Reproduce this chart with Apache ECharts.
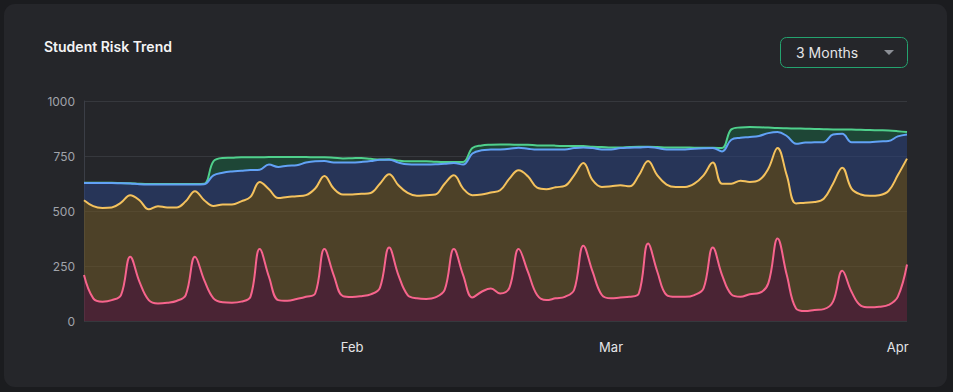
<!DOCTYPE html>
<html><head><meta charset="utf-8">
<script src="https://cdn.jsdelivr.net/npm/echarts@6/dist/echarts.min.js"></script>
<style>
html,body{margin:0;padding:0;background:#1b1c1f;width:953px;height:392px;overflow:hidden;}
#card{position:absolute;left:4px;top:4px;width:943px;height:383px;background:#25262a;border-radius:11px;}
#chart{position:absolute;left:0;top:0;width:953px;height:392px;}
</style></head><body>
<div id="card"></div><div id="chart"></div>
<script>
// Daily categories: 2025-01-03 .. 2025-04-02 (90 days)
const startDate = [2025, 0, 3];
const dayCount = 90;
const dates = [];
for (let i = 0; i < dayCount; i++) {
  const d = new Date(Date.UTC(startDate[0], startDate[1], startDate[2] + i));
  dates.push(d.toISOString().slice(0, 10));
}
const monthNames = ['Jan','Feb','Mar','Apr','May','Jun','Jul','Aug','Sep','Oct','Nov','Dec'];
const yTicks = [0, 250, 500, 750, 1000];

const greenSeries = [628,628,628,628,627,626,624,623,623,623,623,623,623,624,726,741,742,744,744,744,
  745,745,745,745,745,744,744,742,739,740,741,737,734,735,729,726,726,726,724,723,
  723,723,786,798,801,802,802,801,801,798,798,797,795,795,795,792,791,789,789,791,
  792,792,791,789,789,789,788,788,788,786,871,880,882,881,879,877,876,875,874,873,
  872,871,871,870,869,868,867,866,863,859];
const blueSeries = [627,627,627,627,626,625,622,621,621,621,621,621,621,622,662,674,680,683,686,688,
  711,700,706,708,720,726,727,720,720,720,723,727,733,733,720,712,711,711,712,715,
  718,711,761,776,779,780,783,788,783,779,779,780,780,786,789,786,780,780,786,788,
  789,791,786,779,780,780,783,785,786,771,824,833,836,841,854,859,841,806,811,812,
  813,848,851,813,813,813,816,818,839,848];
const yellowSeries = [549,522,514,516,538,572,549,508,522,516,516,544,590,549,523,529,529,544,564,632,
  599,559,564,567,572,602,659,602,575,575,578,582,624,667,617,582,569,572,575,624,
  662,602,572,575,584,594,647,685,658,606,599,608,614,662,718,640,609,612,617,612,
  662,727,662,620,609,609,624,662,720,624,624,638,632,640,692,786,662,534,538,541,
  556,624,697,602,575,569,572,591,662,738];
const pinkSeries = [209,103,88,95,118,292,178,95,80,83,91,118,292,186,103,85,83,88,110,327,
  201,95,92,100,110,125,327,209,113,109,113,121,151,334,209,118,103,100,107,141,
  327,209,107,133,148,125,151,327,224,118,95,103,110,141,342,224,118,103,107,110,
  125,352,224,118,110,110,118,148,334,209,121,110,122,127,171,375,209,57,45,50,
  54,88,228,133,70,62,65,73,110,257];

const lineColors = { green: '#4fd08c', blue: '#62a2f6', yellow: '#f4c25e', pink: '#f7648d' };
const fillColors = {
  green: 'rgba(26,96,64,0.55)', blue: 'rgba(41,65,126,0.55)',
  yellow: 'rgba(112,87,38,0.55)', pink: 'rgba(106,34,60,0.55)'
};

const diff = (a, b) => a.map((v, i) => v - b[i]);
const SMOOTH = 0.4;
function areaSeries(name, data, color) {
  return { name: name + ' area', type: 'line', stack: 'risk', data, smooth: SMOOTH, symbol: 'none',
    lineStyle: { width: 0, opacity: 0 }, areaStyle: { color, opacity: 1 }, z: 2, silent: true };
}
function lineSeries(name, data, color, z) {
  return { name, type: 'line', data, smooth: SMOOTH, symbol: 'none',
    lineStyle: { width: 2, color }, z };
}

const chart = echarts.init(document.getElementById('chart'), null, { renderer: 'svg', width: 953, height: 392 });
chart.setOption({
  backgroundColor: 'transparent',
  animation: false,
  title: { text: 'Student Risk Trend', left: 44, top: 39, padding: 0,
    textStyle: { color: '#f4f4f5', fontSize: 14, fontWeight: 600, fontFamily: 'Inter' } },
  graphic: [
    { type: 'rect', shape: { x: 780.5, y: 37.5, width: 127, height: 30, r: 6 },
      style: { fill: 'transparent', stroke: '#24a36f', lineWidth: 1 } },
    { type: 'text', x: 796, y: 52, style: { text: '3 Months', fill: '#e4e4e7', fontSize: 14,
      fontFamily: 'Inter', verticalAlign: 'middle' } },
    { type: 'polygon', shape: { points: [[884, 50], [894, 50], [889, 55]] }, style: { fill: '#8c8f96' } }
  ],
  grid: { left: 84, right: 46, top: 101, bottom: 71, containLabel: false },
  xAxis: {
    type: 'category', data: dates, boundaryGap: false,
    axisLine: { show: false }, axisTick: { show: false }, splitLine: { show: false },
    axisLabel: {
      interval: (idx, val) => val.slice(8) === '01',
      formatter: (val) => monthNames[parseInt(val.slice(5, 7), 10) - 1],
      color: '#e4e4e7', fontSize: 13, fontFamily: 'Inter', margin: 19
    }
  },
  yAxis: {
    type: 'value', min: yTicks[0], max: yTicks[yTicks.length - 1], interval: yTicks[1] - yTicks[0],
    axisLine: { show: true, lineStyle: { color: '#3b3e46', width: 1 } },
    axisTick: { show: false },
    splitLine: { show: true, lineStyle: { color: '#36383d', width: 1 } },
    axisLabel: { color: '#a1a4aa', fontSize: 12, fontFamily: 'Inter', margin: 9,
      formatter: (v) => String(v) }
  },
  series: [
    areaSeries('At Risk', pinkSeries, fillColors.pink),
    areaSeries('Watch', diff(yellowSeries, pinkSeries), fillColors.yellow),
    areaSeries('Monitored', diff(blueSeries, yellowSeries), fillColors.blue),
    areaSeries('Total', diff(greenSeries, blueSeries), fillColors.green),
    lineSeries('Total', greenSeries, lineColors.green, 3),
    lineSeries('Monitored', blueSeries, lineColors.blue, 4),
    lineSeries('Watch', yellowSeries, lineColors.yellow, 5),
    lineSeries('At Risk', pinkSeries, lineColors.pink, 6)
  ]
});
</script>
</body></html>
